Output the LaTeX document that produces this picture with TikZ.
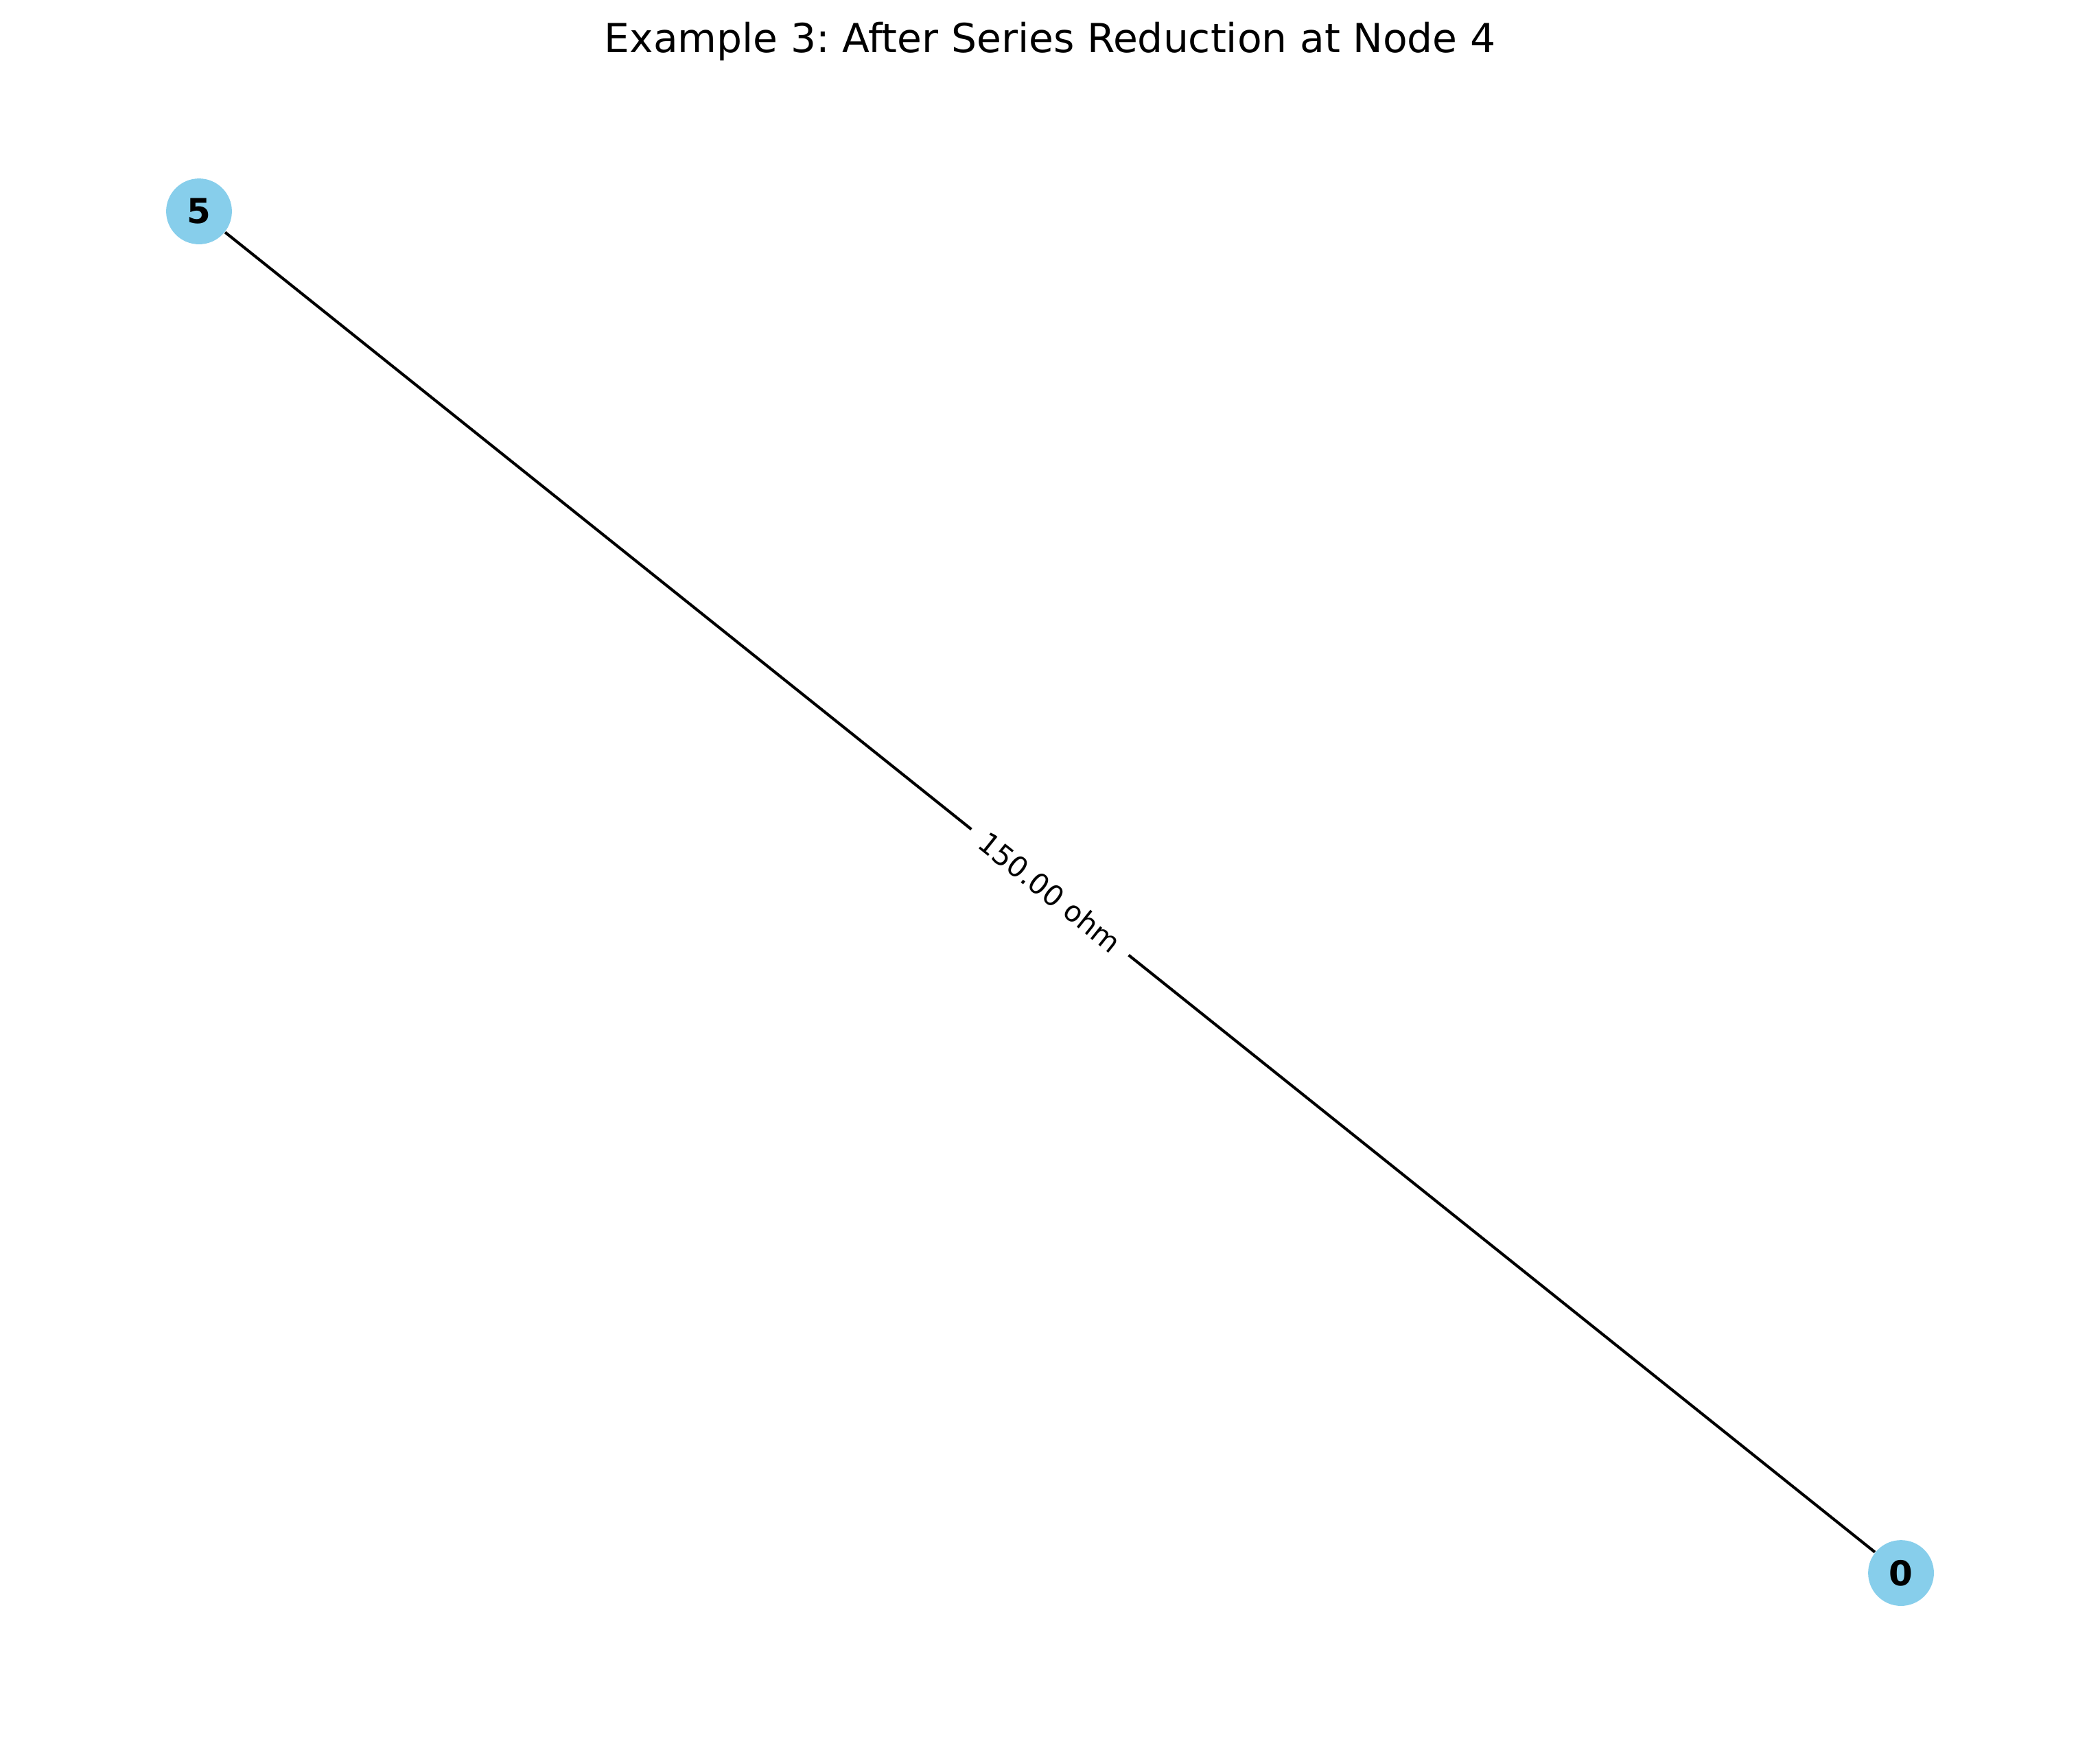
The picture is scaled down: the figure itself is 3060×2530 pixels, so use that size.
\documentclass[tikz,border=0pt]{standalone}
\usepackage{fontspec}
\setmainfont{DejaVu Sans}
\definecolor{skyblue}{HTML}{87CEEB}
\frenchspacing
\begin{document}
\begin{tikzpicture}[x=0.24pt,y=-0.24pt,
  vertex/.style={circle,fill=skyblue,draw=none,minimum size=23pt,inner sep=0pt,font=\fontsize{12}{14}\selectfont\bfseries},
  edgelabel/.style={fill=white,inner xsep=5pt,inner ysep=3pt,font=\fontsize{10}{12}\selectfont,rotate=-38.66},
  wire/.style={line width=1pt,black}]
\useasboundingbox (0,0) rectangle (3060,2530);
\node[anchor=base,font=\fontsize{14}{17}\selectfont] (title) at (1530,76) {Example 3: After Series Reduction at Node 4};
\node[vertex] (n5) at (290,308) {};
\node[vertex] (n0) at (2770,2292) {};
\draw[wire] (n5) -- (n0) node[midway,edgelabel] (lbl) {150.00 ohm};
\node[font=\fontsize{12}{14}\selectfont\bfseries] (t5) at (n5) {5};
\node[font=\fontsize{12}{14}\selectfont\bfseries] (t0) at (n0) {0};
\end{tikzpicture}
\end{document}
